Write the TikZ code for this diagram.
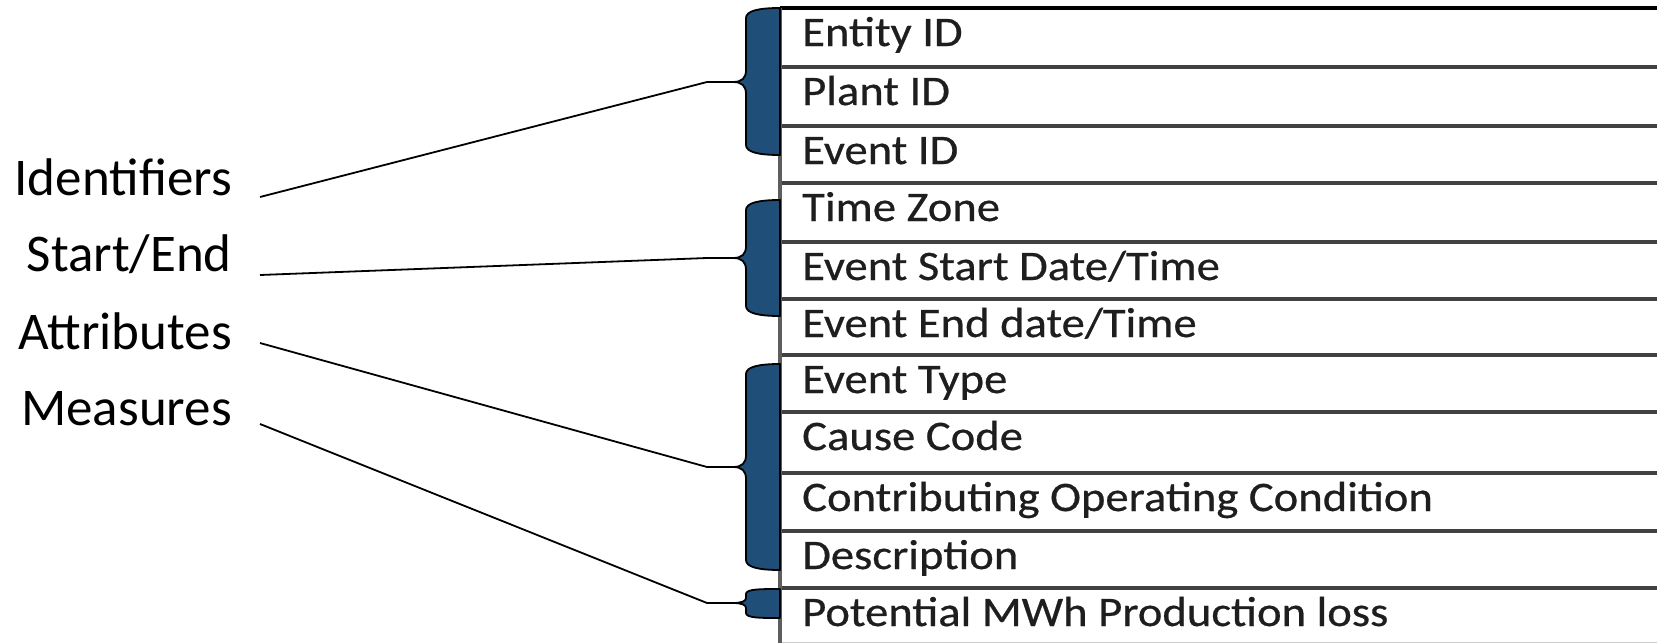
\documentclass[tikz,border=0pt]{standalone}
\usepackage{graphicx}
\usepackage{fontspec}
\setmainfont{Carlito}
\newfontfamily\cellfont[FakeBold=0.5]{Carlito}
\definecolor{bracefill}{RGB}{31,78,121}
\definecolor{rowline}{RGB}{65,65,65}
\definecolor{celltext}{RGB}{30,30,30}
\newcommand{\celltxt}[1]{\scalebox{1.11}[1]{#1}}
\begin{document}
\begin{tikzpicture}[x=1pt,y=-1pt,
  cell/.style={anchor=base west,inner sep=0pt,text=celltext,font=\cellfont\fontsize{42}{46}\selectfont},
  lab/.style={anchor=base east,inner sep=0pt,text=black,font=\fontsize{53}{58}\selectfont},
  bracebody/.style={fill=bracefill,draw=black,line width=1.8pt,line join=round},
  conn/.style={draw=black,line width=1.8pt},
  hline/.style={draw=rowline,line width=3.2pt},
]
\useasboundingbox (0,0) rectangle (1664,643);
\fill[white] (0,0) rectangle (1664,643);

% table lines
\foreach \yy in {67,126,183,242,299,355,412,473,531,588}{
  \draw[hline] (780,\yy) -- (1657,\yy);
}
\draw[draw=gray!40,line width=1pt] (780,642) -- (1657,642);
\draw[draw=black,line width=3.4pt] (780,8) -- (1657,8);
\draw[draw=rowline!85,line width=3.2pt] (780,8) -- (780,643);

% cell texts
\node[cell] (c1) at (802,46) {\celltxt{Entity ID}};
\node[cell] (c2) at (802,105) {\celltxt{Plant ID}};
\node[cell] (c3) at (802,164) {\celltxt{Event ID}};
\node[cell] (c4) at (802,221) {\celltxt{Time Zone}};
\node[cell] (c5) at (802,280) {\celltxt{Event Start Date/Time}};
\node[cell] (c6) at (802,337) {\celltxt{Event End date/Time}};
\node[cell] (c7) at (802,393) {\celltxt{Event Type}};
\node[cell] (c8) at (802,450) {\celltxt{Cause Code}};
\node[cell] (c9) at (802,511) {\celltxt{Contributing Operating Condition}};
\node[cell] (c10) at (802,569) {\celltxt{Description}};
\node[cell] (c11) at (802,626) {\celltxt{Potential MWh Production loss}};

% braces: #1 top, #2 tip, #3 bottom
\newcommand{\mybrace}[4]{%
  \draw[bracebody] (780,#1) .. controls (758,#1) and (746,#1+3) .. (746,#1+10)
    -- (746,#2-12) .. controls (746,#2-4) and (742,#2) .. (733,#2)
    .. controls (742,#2) and (746,#2+4) .. (746,#2+12)
    -- (746,#3-10) .. controls (746,#3-3) and (758,#3) .. (780,#3) -- cycle;
  \coordinate (#4) at (733,#2);}
\mybrace{8}{82}{155}{b1}
\mybrace{200}{258}{316}{b2}
\mybrace{364}{467}{570}{b3}
\draw[bracebody] (780,589) .. controls (760,589) and (746,589) .. (746,594)
    -- (746,598) .. controls (746,601) and (742,603) .. (733,603)
    .. controls (742,603) and (746,605) .. (746,608)
    -- (746,613) .. controls (746,618) and (760,618) .. (780,618) -- cycle;
\coordinate (b4) at (733,603);

% labels
\node[lab] (l1) at (232,195) {Identifiers};
\node[lab] (l2) at (232,271) {Start/End};
\node[lab] (l3) at (232,349) {Attributes};
\node[lab] (l4) at (232,425) {Measures};

% connectors
\coordinate (k1) at (707,82);
\coordinate (k2) at (707,258);
\coordinate (k3) at (707,467);
\coordinate (k4) at (707,603);
\draw[conn] ([xshift=28pt,yshift=-2pt]l1.base east) -- (k1) -- (b1);
\draw[conn] ([xshift=28pt,yshift=-4pt]l2.base east) -- (k2) -- (b2);
\draw[conn] ([xshift=28pt,yshift=6pt]l3.base east) -- (k3) -- (b3);
\draw[conn] ([xshift=28pt,yshift=1pt]l4.base east) -- (k4) -- (b4);
\end{tikzpicture}
\end{document}
